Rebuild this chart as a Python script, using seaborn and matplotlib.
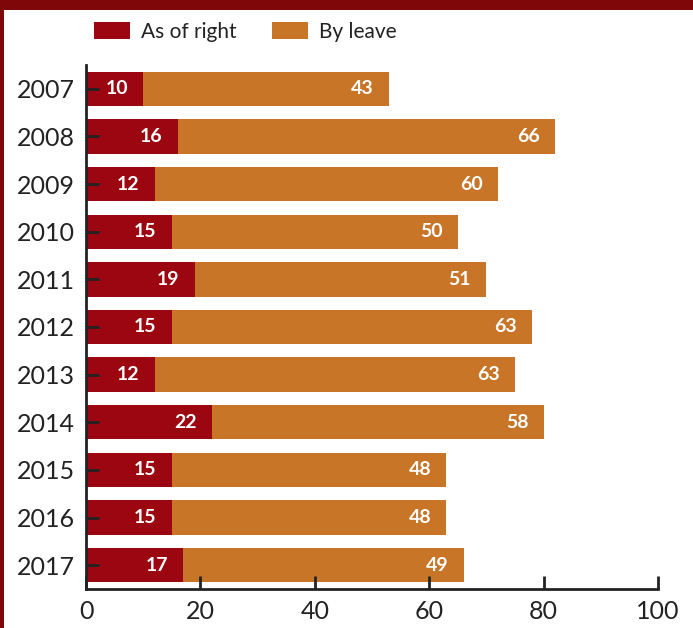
import matplotlib
matplotlib.use("Agg")
import matplotlib.pyplot as plt
from matplotlib.patches import Rectangle, Patch
import seaborn as sns
import pandas as pd

years = ["2007", "2008", "2009", "2010", "2011", "2012", "2013", "2014", "2015", "2016", "2017"]
as_of_right = [10, 16, 12, 15, 19, 15, 12, 22, 15, 15, 17]
by_leave = [43, 66, 60, 50, 51, 63, 63, 58, 48, 48, 49]
x_ticks = [0, 20, 40, 60, 80, 100]

RED = "#9B0610"
ORANGE = "#C87528"
BORDER = "#800709"
INK = "#222222"

sns.set_theme(style="white")
plt.rcParams["font.family"] = ["Lato", "DejaVu Sans"]

df = pd.DataFrame({"year": years, "right": as_of_right, "leave": by_leave})
df["total"] = df["right"] + df["leave"]

fig = plt.figure(figsize=(6.93, 6.28), dpi=100)
fig.patch.set_facecolor("white")
ax = fig.add_axes([86 / 693, 1 - 589 / 628, (658 - 86) / 693, (589 - 65) / 628])

# stacked bars: full total in orange, the as-of-right share drawn over it
sns.barplot(data=df, x="total", y="year", orient="h", color=ORANGE,
            saturation=1, width=0.72, ax=ax, order=years)
sns.barplot(data=df, x="right", y="year", orient="h", color=RED,
            saturation=1, width=0.72, ax=ax, order=years)
for k, p in enumerate(ax.patches):
    p.set_edgecolor("none")
    p.set_zorder(1 + (k >= len(years)) * 0.1)

for i, row in df.iterrows():
    ax.annotate(str(row["right"]), xy=(row["right"], i), xytext=(-11, 0),
                textcoords="offset points", ha="right", va="center",
                color="white", fontsize=14, fontweight="bold", zorder=6)
    ax.annotate(str(row["leave"]), xy=(row["total"], i), xytext=(-11, 0),
                textcoords="offset points", ha="right", va="center",
                color="white", fontsize=14, fontweight="bold", zorder=6)

ax.set_xlim(0, 100)
ax.set_ylim(10.5, -0.5)
ax.set_xticks(x_ticks)
ax.set_xticklabels([str(t) for t in x_ticks])
ax.set_xlabel("")
ax.set_ylabel("")
for s in ["top", "right"]:
    ax.spines[s].set_visible(False)
for s in ["left", "bottom"]:
    ax.spines[s].set_color(INK)
    ax.spines[s].set_linewidth(2)
    ax.spines[s].set_zorder(5)
ax.tick_params(axis="both", direction="in", length=9.5, width=2, color=INK,
               labelsize=18, labelcolor=INK, bottom=True, left=True)
ax.tick_params(axis="y", pad=8)
ax.tick_params(axis="x", pad=8)
ax.xaxis.set_zorder(5)
ax.yaxis.set_zorder(5)
ax.set_facecolor("white")

handles = [Patch(facecolor=RED, edgecolor="none", label="As of right"),
           Patch(facecolor=ORANGE, edgecolor="none", label="By leave")]
fig.legend(handles=handles, loc="center left", bbox_to_anchor=(94 / 693, 1 - 32 / 628),
           ncol=2, frameon=False, fontsize=15, handlelength=1.75, handleheight=0.85,
           handletextpad=0.5, columnspacing=1.7, labelcolor=INK,
           borderpad=0, borderaxespad=0)

# frame band along the top and left edge
fig.patches.append(Rectangle((0, 1 - 10 / 628), 1, 10 / 628, transform=fig.transFigure,
                             facecolor=BORDER, edgecolor="none", zorder=10))
fig.patches.append(Rectangle((0, 0), 4 / 693, 1, transform=fig.transFigure,
                             facecolor=BORDER, edgecolor="none", zorder=10))

fig.savefig("out.png", dpi=100, facecolor="white")
